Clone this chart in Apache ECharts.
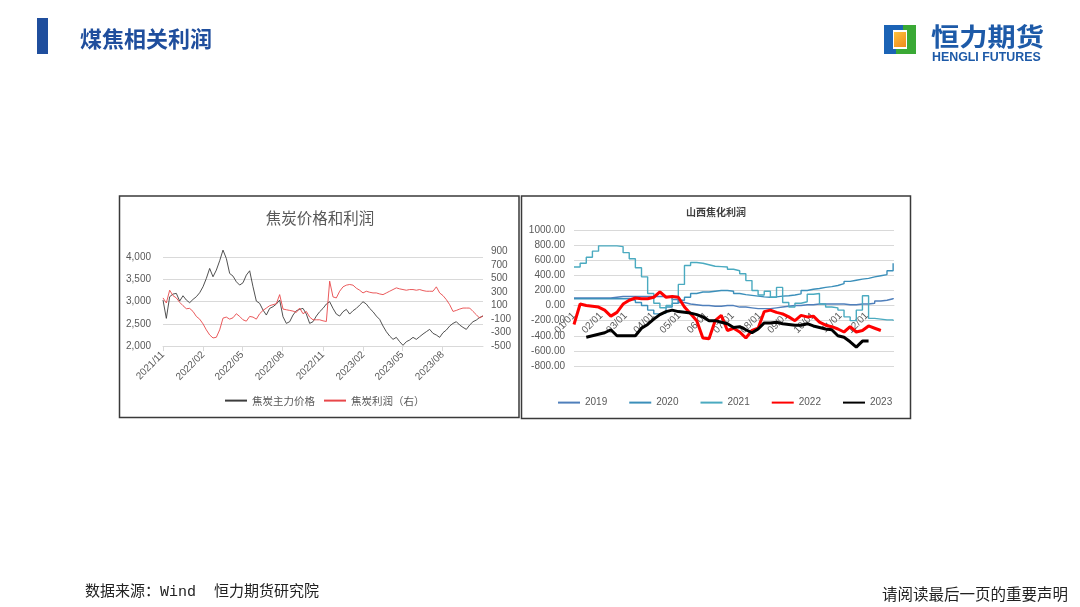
<!DOCTYPE html>
<html><head><meta charset="utf-8">
<script src="https://cdn.jsdelivr.net/npm/echarts@6/dist/echarts.min.js"></script>
<style>html,body{margin:0;padding:0;background:#fff}#c{width:1080px;height:607px}</style>
</head><body><div id="c"></div>
<script>
// ---------- Left chart data (焦炭价格和利润), roughly weekly from 2021/11 to 2023/10 ----------
const leftStartDate = '2021-11-01';
const leftEndDate = '2023-11-01';
const leftTickLabels = ['2021/11','2022/02','2022/05','2022/08','2022/11','2023/02','2023/05','2023/08'];
const cokePrice = [3036,2623,3111,3171,3186,3013,3133,3036,2976,3051,
 3111,3201,3336,3524,3749,3561,3711,3922,4162,3974,
 3636,3576,3449,3374,3426,3599,3696,3336,3013,2961,
 2811,2698,2848,2886,2946,3036,2660,2510,2548,2698,
 2796,2826,2848,2720,2510,2548,2675,2773,2848,2946,
 2998,2848,2720,2675,2773,2826,2720,2796,2848,2923,
 2998,2946,2848,2773,2675,2600,2450,2323,2225,2150,
 2195,2097,2015,2097,2135,2195,2150,2210,2270,2323,
 2375,2285,2248,2195,2300,2360,2450,2510,2548,2473,
 2420,2375,2473,2548,2585,2645,2675];
const cokeProfit = [212,137,326,246,212,147,97,52,57,12,
 -62,-102,-172,-261,-336,-381,-371,-261,-87,-72,
 -102,-82,-22,-62,-112,-132,-62,-72,-102,-22,
 27,62,97,112,127,261,47,37,27,17,
 -2,62,-22,12,-72,-112,-112,-112,-127,-137,
 460,227,212,311,376,401,411,401,356,326,
 286,311,296,286,286,271,261,286,311,336,
 361,346,336,326,336,336,326,336,321,311,
 311,311,376,286,246,187,112,12,27,47,
 62,62,62,12,-37,-87,-52];

// ---------- Right chart data (山西焦化利润), weekly values by year ----------
const rightTickLabels = ['01/01','02/01','03/01','04/01','05/01','06/01','07/01','08/01','09/01','10/01','11/01','12/01'];
const yearNames = ['2019','2020','2021','2022','2023'];
const profit2019 = [100,100,100,100,100,100,110,120,120,120,120,120,120,120,120,120,80,40,20,10,0,0,-10,-10,0,0,-20,-20,-30,-40,-40,-40,-30,-20,-10,0,0,10,10,20,20,20,20,20,10,10,20,20,30,60,70,90,100];
const profit2020 = [90,90,90,90,90,90,90,90,90,70,40,0,-60,-110,-100,-20,30,70,110,160,180,180,190,200,200,190,160,145,135,125,115,110,115,125,130,140,155,200,215,225,240,250,265,290,320,335,350,360,380,395,410,460,560];
const profit2021 = [510,560,640,720,790,790,790,780,700,620,500,380,160,30,-30,0,120,280,530,570,560,540,520,515,510,480,460,420,330,200,140,190,110,240,40,-20,30,50,150,160,20,-20,-30,-60,-150,-200,-60,130,-170,-180,-190,-190,-200];
const profit2022 = [-250,20,0,-10,-20,-60,-140,-90,20,70,100,90,90,110,180,110,120,110,-20,-110,-200,-430,-440,-200,-130,-330,-300,-350,-430,-330,-300,-80,-60,-90,-110,-150,-200,-130,-150,-140,-220,-260,-280,-310,-350,-280,-350,-330,-270,-300,-330,null,null];
const profit2023 = [null,null,-420,-400,-380,-360,-320,-400,-400,-400,-400,-300,-250,-180,-120,-80,-60,-80,-90,-100,-120,-150,-200,-200,-220,-240,-290,-280,-320,-360,-310,-230,-230,-220,-240,-250,-260,-260,-240,-270,-290,-310,-320,-400,-420,-480,-550,-470,-470,null,null,null,null];

// ---------- helpers ----------
const FONT = '"Liberation Sans", "Noto Sans CJK SC", sans-serif';
const CJK = '"Noto Sans CJK SC", sans-serif';
const t0 = Date.parse(leftStartDate + 'T00:00:00Z');
const t1 = Date.parse(leftEndDate + 'T00:00:00Z');
const leftTickVals = leftTickLabels.map(s => { const [y, m] = s.split('/').map(Number); return Date.UTC(y, m - 1, 1); });
const rightTickVals = rightTickLabels.map(s => { const [m, d] = s.split('/').map(Number); return Math.round((Date.UTC(2021, m - 1, d) - Date.UTC(2021, 0, 1)) / 86400000); });
const leftX = (i, n) => t0 + i * (t1 - t0) / (n - 1);
const weekly = arr => arr.map((v, i) => [i * 7, v]);

const yearColors = ['#4f7fbb', '#3b8fba', '#4aaac0', '#ff0000', '#000000'];
const yearWidths = [1.4, 1.4, 1.4, 3, 3];
const yearData = [profit2019, profit2020, profit2021, profit2022, profit2023];

const chart = echarts.init(document.getElementById('c'), null, {renderer: 'canvas'});
const option = {
  animation: false,
  backgroundColor: '#ffffff',
  grid: [
    {left: 163, top: 246, width: 320, height: 100},
    {left: 574, top: 230, width: 320, height: 136}
  ],
  xAxis: [
    {gridIndex: 0, type: 'value', min: t0, max: t1,
     axisLine: {onZero: false, lineStyle: {color: '#d9d9d9', width: 1}},
     axisTick: {show: true, customValues: leftTickVals, length: 5, lineStyle: {color: '#d9d9d9'}},
     axisLabel: {customValues: leftTickVals, rotate: 45, margin: 7, fontSize: 10, color: '#595959', fontFamily: FONT,
       formatter: v => leftTickLabels[leftTickVals.indexOf(v)] || ''},
     splitLine: {show: false}},
    {gridIndex: 1, type: 'value', min: 0, max: 365, offset: -61,
     axisLine: {onZero: false, lineStyle: {color: '#d9d9d9', width: 1}},
     axisTick: {show: false},
     axisLabel: {customValues: rightTickVals, rotate: 45, margin: 9, fontSize: 10, color: '#595959', fontFamily: FONT,
       formatter: v => rightTickLabels[rightTickVals.indexOf(v)] || ''},
     splitLine: {show: false}}
  ],
  yAxis: [
    {gridIndex: 0, type: 'value', min: 2000, max: 4255, interval: 500,
     axisLine: {show: false}, axisTick: {show: false},
     axisLabel: {fontSize: 10, color: '#595959', fontFamily: FONT, margin: 12, showMaxLabel: false,
       formatter: v => v.toLocaleString('en-US')},
     splitLine: {show: true, showMaxLine: false, lineStyle: {color: '#d9d9d9', width: 1}}},
    {gridIndex: 0, type: 'value', position: 'right', min: -500, max: 981, interval: 200,
     axisLine: {show: false}, axisTick: {show: false},
     axisLabel: {fontSize: 10, color: '#595959', fontFamily: FONT, margin: 8, showMaxLabel: false},
     splitLine: {show: false}},
    {gridIndex: 1, type: 'value', min: -800, max: 1000, interval: 200,
     axisLine: {show: false}, axisTick: {show: false},
     axisLabel: {fontSize: 10, color: '#595959', fontFamily: FONT, margin: 9, formatter: v => v.toFixed(2)},
     splitLine: {show: true, lineStyle: {color: '#d9d9d9', width: 1}}}
  ],
  legend: [
    {data: ['焦炭主力价格', '焦炭利润（右）'], left: 224, top: 395, padding: 0, itemWidth: 22, itemHeight: 14, itemGap: 8,
     itemStyle: {opacity: 0},
     textStyle: {fontSize: 10.5, color: '#595959', fontFamily: CJK}},
    {data: yearNames, left: 557, top: 397, padding: 0, itemWidth: 22, itemHeight: 14, itemGap: 21,
     itemStyle: {opacity: 0},
     textStyle: {fontSize: 10, color: '#595959', fontFamily: FONT}}
  ],
  series: [
    {name: '焦炭主力价格', type: 'line', xAxisIndex: 0, yAxisIndex: 0, symbol: 'none',
     data: cokePrice.map((v, i) => [leftX(i, cokePrice.length), v]),
     lineStyle: {color: '#3d3d3d', width: 0.9}, itemStyle: {color: '#3d3d3d'}},
    {name: '焦炭利润（右）', type: 'line', xAxisIndex: 0, yAxisIndex: 1, symbol: 'none',
     data: cokeProfit.map((v, i) => [leftX(i, cokeProfit.length), v]),
     lineStyle: {color: '#e8474a', width: 0.9}, itemStyle: {color: '#e8474a'}}
  ].concat(yearNames.map((name, k) => ({
    name: name, type: 'line', xAxisIndex: 1, yAxisIndex: 2, symbol: 'none',
    step: k < 3 ? 'end' : false,
    data: weekly(yearData[k]),
    lineStyle: {color: yearColors[k], width: yearWidths[k]}, itemStyle: {color: yearColors[k]}
  }))),
  graphic: [
    // header
    {type: 'rect', shape: {x: 37, y: 18, width: 11, height: 36}, style: {fill: '#1f4e9d'}},
    {type: 'text', style: {text: '煤焦相关利润', x: 80, y: 39, textVerticalAlign: 'middle',
      font: 'bold 22px "Noto Sans CJK SC", sans-serif', fill: '#1f4e9d'}},
    // logo
    {type: 'rect', shape: {x: 884, y: 25, width: 9, height: 29}, style: {fill: '#1b63b5'}},
    {type: 'rect', shape: {x: 884, y: 25, width: 19, height: 5}, style: {fill: '#1b63b5'}},
    {type: 'rect', shape: {x: 884, y: 49, width: 12, height: 5}, style: {fill: '#1b63b5'}},
    {type: 'rect', shape: {x: 907, y: 25, width: 9, height: 29}, style: {fill: '#3aa935'}},
    {type: 'rect', shape: {x: 903, y: 25, width: 13, height: 5}, style: {fill: '#3aa935'}},
    {type: 'rect', shape: {x: 896, y: 49, width: 20, height: 5}, style: {fill: '#3aa935'}},
    {type: 'rect', shape: {x: 894, y: 32, width: 12, height: 15},
     style: {fill: {type: 'linear', x: 0, y: 0, x2: 1, y2: 1, colorStops: [{offset: 0, color: '#fdc23c'}, {offset: 1, color: '#f08a1c'}]}}},
    {type: 'text', x: 931, y: 36, scaleX: 1.13, style: {text: '恒力期货', x: 0, y: 0, textVerticalAlign: 'middle',
      font: 'bold 25px "Noto Sans CJK SC", sans-serif', fill: '#1d5aa8'}},
    {type: 'text', style: {text: 'HENGLI FUTURES', x: 932, y: 57.5, textVerticalAlign: 'middle',
      font: 'bold 12.4px "Liberation Sans", sans-serif', fill: '#1d5aa8'}},
    // chart boxes
    {type: 'rect', shape: {x: 119.5, y: 196, width: 399.5, height: 221.5}, style: {fill: 'none', stroke: '#3a3a3a', lineWidth: 1.5}},
    {type: 'rect', shape: {x: 521.5, y: 196, width: 389, height: 222.5}, style: {fill: 'none', stroke: '#3a3a3a', lineWidth: 1.5}},
    // chart titles
    {type: 'text', style: {text: '焦炭价格和利润', x: 320, y: 218, textAlign: 'center', textVerticalAlign: 'middle',
      font: '15.5px "Noto Sans CJK SC", sans-serif', fill: '#595959'}},
    {type: 'text', style: {text: '山西焦化利润', x: 716, y: 212, textAlign: 'center', textVerticalAlign: 'middle',
      font: 'bold 10px "Noto Sans CJK SC", sans-serif', fill: '#404040'}},
    // footer
    {type: 'text', style: {text: '数据来源：Wind  恒力期货研究院', x: 85, y: 592, textVerticalAlign: 'middle',
      font: '15px "Liberation Mono", "Noto Sans CJK SC", sans-serif', fill: '#222222'}},
    {type: 'text', style: {text: '请阅读最后一页的重要声明', x: 1068, y: 594, textAlign: 'right', textVerticalAlign: 'middle',
      font: '15.5px "Noto Sans CJK SC", sans-serif', fill: '#222222'}}
  ]
};
chart.setOption(option);
</script>
</body></html>
